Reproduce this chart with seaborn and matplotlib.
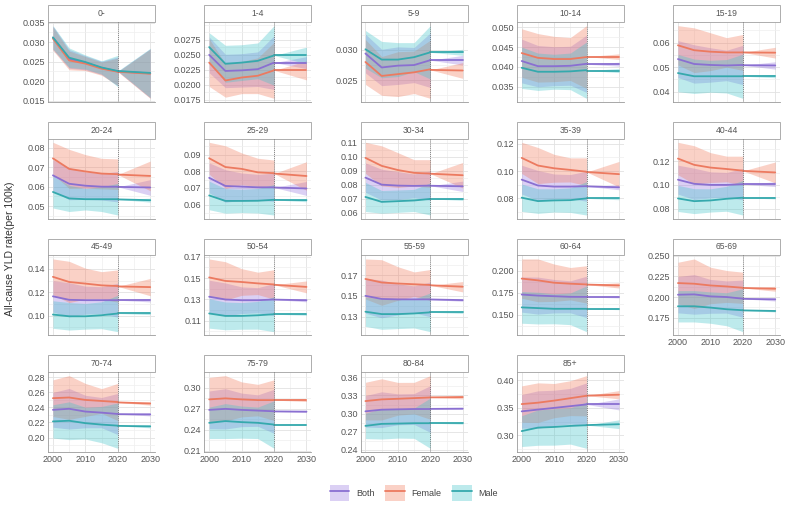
import numpy as np
import pandas as pd
import matplotlib
matplotlib.use("Agg")
import matplotlib.pyplot as plt
import seaborn as sns
from matplotlib.patches import Patch, Rectangle
from matplotlib.lines import Line2D
from matplotlib.ticker import AutoMinorLocator, FixedLocator, FormatStrFormatter

# ---- data ----
age_groups = ["0-", "1-4", "5-9", "10-14", "15-19", "20-24", "25-29", "30-34", "35-39", "40-44",
              "45-49", "50-54", "55-59", "60-64", "65-69", "70-74", "75-79", "80-84", "85+"]
sexes = ["Both", "Female", "Male"]
hist_years = [2000, 2005, 2010, 2015, 2020]
proj_years = [2020, 2030]

# estimated rate at hist_years
both_hist = [
    [0.0311, 0.0257, 0.0247, 0.0234, 0.0225], [0.0250, 0.0223, 0.0224, 0.0226, 0.0237],
    [0.0294, 0.0271, 0.0274, 0.0275, 0.0283], [0.0415, 0.0402, 0.0402, 0.0403, 0.0408],
    [0.0533, 0.0513, 0.0509, 0.0507, 0.0509], [0.0658, 0.0615, 0.0605, 0.0600, 0.0600],
    [0.0761, 0.0712, 0.0708, 0.0704, 0.0704], [0.0852, 0.0802, 0.0795, 0.0793, 0.0795],
    [0.0937, 0.0894, 0.0886, 0.0886, 0.0889], [0.1044, 0.1009, 0.1000, 0.1000, 0.1006],
    [0.1165, 0.1135, 0.1132, 0.1132, 0.1132], [0.1326, 0.1300, 0.1293, 0.1293, 0.1300],
    [0.1500, 0.1470, 0.1466, 0.1466, 0.1466], [0.1731, 0.1719, 0.1712, 0.1705, 0.1704],
    [0.2028, 0.2032, 0.2008, 0.2000, 0.1980], [0.2367, 0.2381, 0.2344, 0.2330, 0.2312],
    [0.2685, 0.2700, 0.2685, 0.2675, 0.2665], [0.3038, 0.3065, 0.3071, 0.3076, 0.3076],
    [0.3437, 0.3469, 0.3500, 0.3531, 0.3563],
]
female_hist = [
    [0.0309, 0.0253, 0.0245, 0.0232, 0.0224], [0.0237, 0.0207, 0.0212, 0.0215, 0.0224],
    [0.0280, 0.0257, 0.0260, 0.0263, 0.0268], [0.0435, 0.0423, 0.0420, 0.0420, 0.0425],
    [0.0589, 0.0569, 0.0563, 0.0560, 0.0560], [0.0745, 0.0691, 0.0678, 0.0667, 0.0664],
    [0.0879, 0.0826, 0.0815, 0.0794, 0.0789], [0.0993, 0.0936, 0.0906, 0.0886, 0.0881],
    [0.1096, 0.1040, 0.1020, 0.1008, 0.0995], [0.1222, 0.1169, 0.1146, 0.1134, 0.1120],
    [0.1332, 0.1288, 0.1274, 0.1259, 0.1253], [0.1507, 0.1474, 0.1464, 0.1451, 0.1441],
    [0.1663, 0.1629, 0.1619, 0.1612, 0.1605], [0.1912, 0.1892, 0.1865, 0.1854, 0.1846],
    [0.2169, 0.2161, 0.2140, 0.2128, 0.2112], [0.2521, 0.2530, 0.2498, 0.2484, 0.2470],
    [0.2835, 0.2850, 0.2835, 0.2825, 0.2825], [0.3207, 0.3235, 0.3245, 0.3256, 0.3267],
    [0.3569, 0.3594, 0.3632, 0.3676, 0.3720],
]
male_hist = [
    [0.0312, 0.0260, 0.0249, 0.0235, 0.0226], [0.0263, 0.0235, 0.0237, 0.0240, 0.0249],
    [0.0301, 0.0284, 0.0284, 0.0288, 0.0296], [0.0398, 0.0388, 0.0388, 0.0389, 0.0392],
    [0.0476, 0.0463, 0.0463, 0.0463, 0.0463], [0.0573, 0.0540, 0.0536, 0.0536, 0.0536],
    [0.0655, 0.0622, 0.0622, 0.0623, 0.0629], [0.0714, 0.0679, 0.0684, 0.0689, 0.0700],
    [0.0805, 0.0780, 0.0785, 0.0787, 0.0800], [0.0886, 0.0863, 0.0869, 0.0883, 0.0892],
    [0.1009, 0.0994, 0.0994, 0.1003, 0.1018], [0.1169, 0.1146, 0.1146, 0.1152, 0.1162],
    [0.1347, 0.1324, 0.1324, 0.1330, 0.1341], [0.1585, 0.1577, 0.1569, 0.1569, 0.1569],
    [0.1888, 0.1888, 0.1872, 0.1852, 0.1840], [0.2214, 0.2223, 0.2191, 0.2172, 0.2158],
    [0.2500, 0.2525, 0.2510, 0.2500, 0.2475], [0.2798, 0.2831, 0.2836, 0.2842, 0.2842],
    [0.3079, 0.3142, 0.3154, 0.3173, 0.3186],
]

# half width of the uncertainty band at hist_years
both_hist_hw = [
    [0.0030, 0.0024, 0.0018, 0.0017, 0.0037], [0.0030, 0.0028, 0.0028, 0.0029, 0.0045],
    [0.0032, 0.0030, 0.0031, 0.0029, 0.0045], [0.0055, 0.0052, 0.0049, 0.0049, 0.0072],
    [0.0075, 0.0078, 0.0070, 0.0062, 0.0080], [0.0080, 0.0082, 0.0070, 0.0068, 0.0078],
    [0.0090, 0.0098, 0.0082, 0.0078, 0.0085], [0.0105, 0.0110, 0.0100, 0.0085, 0.0105],
    [0.0105, 0.0110, 0.0092, 0.0088, 0.0110], [0.0122, 0.0132, 0.0110, 0.0105, 0.0132],
    [0.0135, 0.0146, 0.0120, 0.0115, 0.0146], [0.0155, 0.0155, 0.0125, 0.0118, 0.0150],
    [0.0168, 0.0182, 0.0150, 0.0130, 0.0168], [0.0200, 0.0210, 0.0190, 0.0182, 0.0235],
    [0.0220, 0.0240, 0.0205, 0.0195, 0.0225], [0.0230, 0.0268, 0.0215, 0.0200, 0.0272],
    [0.0270, 0.0288, 0.0240, 0.0225, 0.0315], [0.0260, 0.0295, 0.0255, 0.0255, 0.0385],
    [0.0305, 0.0340, 0.0320, 0.0323, 0.0390],
]
female_hist_hw = [
    [0.0030, 0.0024, 0.0018, 0.0017, 0.0035], [0.0040, 0.0028, 0.0027, 0.0030, 0.0047],
    [0.0037, 0.0032, 0.0037, 0.0035, 0.0048], [0.0061, 0.0061, 0.0057, 0.0054, 0.0079],
    [0.0080, 0.0091, 0.0077, 0.0060, 0.0073], [0.0082, 0.0100, 0.0086, 0.0078, 0.0078],
    [0.0096, 0.0128, 0.0096, 0.0085, 0.0079], [0.0111, 0.0143, 0.0124, 0.0094, 0.0099],
    [0.0114, 0.0132, 0.0102, 0.0088, 0.0101], [0.0137, 0.0161, 0.0126, 0.0108, 0.0122],
    [0.0153, 0.0177, 0.0132, 0.0117, 0.0138], [0.0173, 0.0180, 0.0125, 0.0105, 0.0138],
    [0.0193, 0.0220, 0.0162, 0.0119, 0.0149], [0.0223, 0.0243, 0.0212, 0.0184, 0.0212],
    [0.0252, 0.0300, 0.0221, 0.0193, 0.0189], [0.0242, 0.0289, 0.0218, 0.0163, 0.0246],
    [0.0315, 0.0325, 0.0250, 0.0225, 0.0290], [0.0310, 0.0340, 0.0270, 0.0260, 0.0360],
    [0.0330, 0.0360, 0.0310, 0.0316, 0.0365],
]
male_hist_hw = [
    [0.0030, 0.0025, 0.0018, 0.0017, 0.0040], [0.0024, 0.0031, 0.0030, 0.0030, 0.0050],
    [0.0031, 0.0030, 0.0028, 0.0024, 0.0044], [0.0052, 0.0047, 0.0044, 0.0046, 0.0071],
    [0.0076, 0.0070, 0.0065, 0.0068, 0.0090], [0.0082, 0.0067, 0.0055, 0.0063, 0.0081],
    [0.0086, 0.0074, 0.0070, 0.0074, 0.0092], [0.0104, 0.0081, 0.0080, 0.0079, 0.0115],
    [0.0100, 0.0090, 0.0085, 0.0090, 0.0122], [0.0110, 0.0105, 0.0098, 0.0105, 0.0146],
    [0.0118, 0.0118, 0.0110, 0.0115, 0.0156], [0.0138, 0.0130, 0.0125, 0.0130, 0.0164],
    [0.0142, 0.0147, 0.0140, 0.0140, 0.0187], [0.0180, 0.0180, 0.0170, 0.0180, 0.0260],
    [0.0190, 0.0190, 0.0190, 0.0200, 0.0260], [0.0220, 0.0250, 0.0210, 0.0240, 0.0300],
    [0.0225, 0.0250, 0.0230, 0.0225, 0.0340], [0.0210, 0.0250, 0.0240, 0.0250, 0.0415],
    [0.0280, 0.0320, 0.0330, 0.0330, 0.0420],
]

# projection (2020 -> 2030)
both_proj = [
    [0.0225, 0.0220], [0.0237, 0.0237], [0.0283, 0.0283], [0.0407, 0.0407], [0.0508, 0.0507],
    [0.0599, 0.0596], [0.0703, 0.0697], [0.0794, 0.0790], [0.0888, 0.0881], [0.1006, 0.1006],
    [0.1132, 0.1132], [0.1299, 0.1293], [0.1465, 0.1459], [0.1704, 0.1704], [0.1978, 0.1972],
    [0.2310, 0.2307], [0.2663, 0.2660], [0.3078, 0.3082], [0.3563, 0.3563],
]
female_proj = [
    [0.0224, 0.0219], [0.0224, 0.0224], [0.0267, 0.0266], [0.0426, 0.0426], [0.0560, 0.0559],
    [0.0662, 0.0655], [0.0787, 0.0772], [0.0880, 0.0869], [0.0993, 0.0977], [0.1118, 0.1105],
    [0.1250, 0.1244], [0.1438, 0.1418], [0.1602, 0.1588], [0.1844, 0.1835], [0.2110, 0.2100],
    [0.2465, 0.2451], [0.2825, 0.2825], [0.3268, 0.3273], [0.3722, 0.3739],
]
male_proj = [
    [0.0226, 0.0221], [0.0249, 0.0249], [0.0296, 0.0296], [0.0391, 0.0391], [0.0463, 0.0463],
    [0.0535, 0.0531], [0.0628, 0.0627], [0.0700, 0.0700], [0.0800, 0.0800], [0.0892, 0.0892],
    [0.1018, 0.1018], [0.1162, 0.1162], [0.1341, 0.1341], [0.1569, 0.1569], [0.1838, 0.1831],
    [0.2155, 0.2149], [0.2475, 0.2475], [0.2842, 0.2842], [0.3188, 0.3204],
]
# band half width of the projection at 2020 and 2030
both_proj_hw = [
    [0, 0.0063], [0, 0.0010], [0, 0.0008], [0, 0.0005], [0, 0.0015], [0, 0.0040], [0, 0.0042],
    [0, 0.0037], [0, 0.0018], [0, 0.0020], [0, 0.0015], [0, 0.0015], [0, 0.0012], [0, 0.0012],
    [0, 0.0020], [0, 0.0020], [0, 0.0012], [0, 0.0012], [0, 0.0100],
]
female_proj_hw = [
    [0, 0.0063], [0, 0.0016], [0, 0.0013], [0, 0.0007], [0, 0.0022], [0, 0.0076], [0, 0.0086],
    [0, 0.0091], [0, 0.0093], [0, 0.0088], [0, 0.0074], [0, 0.0056], [0, 0.0050], [0, 0.0030],
    [0, 0.0030], [0, 0.0022], [0, 0.0020], [0, 0.0030], [0, 0.0075],
]
male_proj_hw = [
    [0, 0.0063], [0, 0.0014], [0, 0.0005], [0, 0.0005], [0, 0.0006], [0, 0.0010], [0, 0.0010],
    [0, 0.0010], [0, 0.0010], [0, 0.0010], [0, 0.0010], [0, 0.0010], [0, 0.0010], [0, 0.0010],
    [0, 0.0012], [0, 0.0020], [0, 0.0012], [0, 0.0015], [0, 0.0080],
]

y_ticks = [
    [0.015, 0.020, 0.025, 0.030, 0.035], [0.0175, 0.0200, 0.0225, 0.0250, 0.0275],
    [0.025, 0.030], [0.035, 0.040, 0.045, 0.050], [0.04, 0.05, 0.06],
    [0.05, 0.06, 0.07, 0.08], [0.06, 0.07, 0.08, 0.09, 0.10], [0.06, 0.07, 0.08, 0.09, 0.10, 0.11],
    [0.08, 0.10, 0.12], [0.08, 0.10, 0.12], [0.10, 0.12, 0.14], [0.11, 0.13, 0.15, 0.17],
    [0.13, 0.15, 0.17, 0.19], [0.150, 0.175, 0.200], [0.175, 0.200, 0.225, 0.250],
    [0.18, 0.20, 0.22, 0.24, 0.26, 0.28], [0.21, 0.24, 0.27, 0.30],
    [0.24, 0.27, 0.30, 0.33, 0.36], [0.30, 0.35, 0.40],
]
y_decimals = [3, 4, 3, 3, 2, 2, 2, 2, 2, 2, 2, 2, 2, 3, 3, 2, 2, 2, 2]
x_ticks = [2000, 2010, 2020, 2030]

line_colors = {"Both": "#8a6fd1", "Female": "#ec7a60", "Male": "#35a9ad"}
band_colors = {"Both": "#9677e0", "Female": "#f2785a", "Male": "#40c4c8"}

# ---- long table ----
series = {
    "Both": (both_hist, both_hist_hw, both_proj, both_proj_hw),
    "Female": (female_hist, female_hist_hw, female_proj, female_proj_hw),
    "Male": (male_hist, male_hist_hw, male_proj, male_proj_hw),
}
rows = []
for i, age in enumerate(age_groups):
    for sex in sexes:
        hist, hist_hw, proj, proj_hw = series[sex]
        for period, yrs, m, hw in [("hist", hist_years, hist[i], hist_hw[i]),
                                   ("proj", proj_years, proj[i], proj_hw[i])]:
            for yr, v, h in zip(yrs, m, hw):
                rows.append({"age": age, "sex": sex, "period": period, "year": yr,
                             "rate": v, "lo": v - h, "hi": v + h})
df = pd.DataFrame(rows)

sns.set_theme(style="white")
plt.rcParams["font.family"] = ["Liberation Sans", "DejaVu Sans"]


def draw_panel(data, **kws):
    ax = plt.gca()
    for sex in sexes:
        for period in ["hist", "proj"]:
            d = data[(data["sex"] == sex) & (data["period"] == period)]
            ax.fill_between(d["year"], d["lo"], d["hi"], color=band_colors[sex],
                            alpha=0.34, lw=0)
    sns.lineplot(data=data, x="year", y="rate", hue="sex", units="period", estimator=None,
                 hue_order=sexes, palette=line_colors, lw=1.3, legend=False, ax=ax)
    ax.axvline(2020, color="#666666", ls=(0, (1, 1.5)), lw=0.6, zorder=5)


g = sns.FacetGrid(df, col="age", col_order=age_groups, col_wrap=5, sharey=False,
                  sharex=True, height=1.0, aspect=1.3)
g.map_dataframe(draw_panel)
g.set_titles("")
g.set_axis_labels("", "")

fig = g.figure
fig.set_size_inches(7.88, 5.19)
fig.subplots_adjust(left=0.061, right=0.990, top=0.9576, bottom=0.1291,
                    wspace=0.46, hspace=0.458)

strip_h = 0.21
for i, ax in enumerate(g.axes.flat):
    lim = ax.get_ylim()
    ax.set_yticks(y_ticks[i])
    ax.set_ylim(lim)
    ax.yaxis.set_major_formatter(FormatStrFormatter(f"%.{y_decimals[i]}f"))
    ax.yaxis.set_minor_locator(AutoMinorLocator(2))
    ax.set_xlim(1998.5, 2031.5)
    ax.set_xticks(x_ticks)
    ax.xaxis.set_minor_locator(FixedLocator([2005, 2015, 2025]))
    ax.grid(which="major", color="#e2e2e2", lw=0.6)
    ax.grid(which="minor", color="#efefef", lw=0.5)
    ax.set_axisbelow(True)
    ax.tick_params(which="both", length=0, pad=2, labelsize=6.5, labelcolor="#555555")
    ax.tick_params(axis="x", labelbottom=(i >= 14))
    for s in ["top", "right"]:
        ax.spines[s].set_visible(False)
    for s in ["left", "bottom"]:
        ax.spines[s].set_color("#9a9a9a")
        ax.spines[s].set_linewidth(0.6)
    ax.add_patch(Rectangle((0, 1.0), 1, strip_h, transform=ax.transAxes, clip_on=False,
                           facecolor="white", edgecolor="#a0a0a0", lw=0.6))
    ax.text(0.5, 1 + strip_h / 2, age_groups[i], transform=ax.transAxes, ha="center",
            va="center", fontsize=6.2, color="#555555")

fig.text(0.013, 0.52, "All-cause YLD rate(per 100k)", rotation=90, ha="center",
         va="center", fontsize=7.5, color="#333333")

handles = [(Patch(facecolor=band_colors[s], alpha=0.34, lw=0),
            Line2D([], [], color=line_colors[s], lw=1.3)) for s in sexes]
fig.legend(handles, sexes, loc="center", bbox_to_anchor=(0.525, 0.05), ncol=3,
           frameon=False, fontsize=6.5, handlelength=2.2, handleheight=2.2,
           columnspacing=1.2, handletextpad=0.7, labelcolor="#444444")

fig.savefig("out.png", dpi=100)
